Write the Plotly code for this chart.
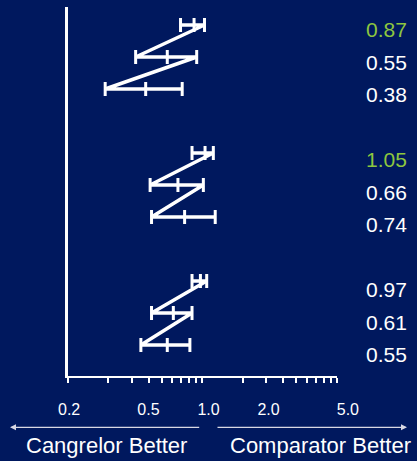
import plotly.graph_objects as go

# Hazard ratios (point estimate and 95% CI) per row, three groups of three rows
row_pos = [0, 1, 2, 4, 5, 6, 8, 9, 10]
estimate = [0.87, 0.55, 0.38, 1.05, 0.66, 0.74, 0.97, 0.61, 0.55]
ci_low = [0.69, 0.32, 0.19, 0.84, 0.41, 0.42, 0.84, 0.42, 0.35]
ci_high = [1.04, 0.91, 0.71, 1.21, 1.02, 1.25, 1.08, 0.84, 0.81]
value_labels = ["0.87", "0.55", "0.38", "1.05", "0.66", "0.74", "0.97", "0.61", "0.55"]
highlight = [True, False, False, True, False, False, False, False, False]
groups = [[0, 1, 2], [3, 4, 5], [6, 7, 8]]

scale_vals = [0.2, 0.5, 1.0, 2.0, 5.0]
scale_text = ["0.2", "0.5", "1.0", "2.0", "5.0"]
left_caption = "Cangrelor Better"
right_caption = "Comparator Better"

BG = "#00185E"
GREEN = "#8DC63F"
FONT = "Liberation Sans, Arial, sans-serif"
W, H = 417, 461

fig = go.Figure()

# Zigzag polyline: each row drawn low->high, then jump to next row's low bound
for g in groups:
    xs, ys = [], []
    for i in g:
        xs += [ci_low[i], ci_high[i]]
        ys += [row_pos[i], row_pos[i]]
    fig.add_trace(go.Scatter(
        x=xs, y=ys, mode="lines",
        line=dict(color="white", width=3.5),
        hoverinfo="skip", showlegend=False,
    ))

# Vertical tick marks at CI bounds and point estimate
mx, my = [], []
for i in range(len(row_pos)):
    mx += [ci_low[i], estimate[i], ci_high[i]]
    my += [row_pos[i]] * 3
fig.add_trace(go.Scatter(
    x=mx, y=my, mode="markers",
    marker=dict(symbol="line-ns", size=10, line=dict(color="white", width=3)),
    hoverinfo="skip", showlegend=False,
))

# Invisible trace to activate the scale-label axis
fig.add_trace(go.Scatter(x=[1.0], y=[0], xaxis="x2", yaxis="y", mode="markers",
                         marker=dict(opacity=0), hoverinfo="skip", showlegend=False))

x0_px, x1_px = 67.7, 336.7
y_top_px, y_bot_px = 7, 376
dom_x = [x0_px / W, x1_px / W]
dom_y = [(H - y_bot_px) / H, (H - y_top_px) / H]

fig.update_layout(
    width=W, height=H,
    margin=dict(l=0, r=0, t=0, b=0, autoexpand=False),
    paper_bgcolor=BG, plot_bgcolor="rgba(0,0,0,0)",
    font=dict(family=FONT, color="white"),
    xaxis=dict(
        type="log", range=[-1, 1], domain=dom_x,
        showline=True, linecolor="white", linewidth=2,
        ticks="outside", ticklen=5, tickwidth=2, tickcolor="white",
        dtick="D1", showticklabels=False, automargin=False,
        showgrid=False, zeroline=False, fixedrange=True,
    ),
    xaxis2=dict(
        type="log", range=[-1.0456, 1.0456], domain=[0, 1],
        anchor="free", position=(H - 398) / H, side="bottom",
        tickmode="array", tickvals=scale_vals, ticktext=scale_text,
        tickfont=dict(size=16, color="white", family=FONT),
        ticks="", showline=False, showgrid=False, zeroline=False,
        automargin=False, fixedrange=True,
    ),
    yaxis=dict(
        range=[10.97, -0.5625], domain=dom_y,
        showline=True, linecolor="white", linewidth=3,
        ticks="", showticklabels=False, automargin=False,
        showgrid=False, zeroline=False, fixedrange=True,
    ),
)

# Estimate values in the right-hand column
for i, (rp, txt) in enumerate(zip(row_pos, value_labels)):
    fig.add_annotation(
        x=409 / W, xref="paper", xanchor="right",
        y=rp, yref="y", yanchor="middle", yshift=-(5 + 0.5 * rp),
        text=txt, showarrow=False,
        font=dict(size=21, color=GREEN if highlight[i] else "white", family=FONT),
    )

# Direction arrows under the scale
arrow_y = (H - 427.3) / H
for tail, tip in [(200.7, 10), (216, 407)]:
    fig.add_annotation(
        x=tip / W, y=arrow_y, xref="paper", yref="paper",
        ax=tail - tip, ay=0, axref="pixel", ayref="pixel",
        text="", showarrow=True, arrowhead=2, arrowsize=1,
        arrowwidth=1.2, arrowcolor="#d8d8e4",
    )

cap_y = (H - 445) / H
fig.add_annotation(x=106.7 / W, y=cap_y, xref="paper", yref="paper",
                   xanchor="center", yanchor="middle",
                   text=left_caption, showarrow=False,
                   font=dict(size=22, color="white", family=FONT))
fig.add_annotation(x=320 / W, y=cap_y, xref="paper", yref="paper",
                   xanchor="center", yanchor="middle",
                   text=right_caption, showarrow=False,
                   font=dict(size=22, color="white", family=FONT))

fig.write_html("out.html")
